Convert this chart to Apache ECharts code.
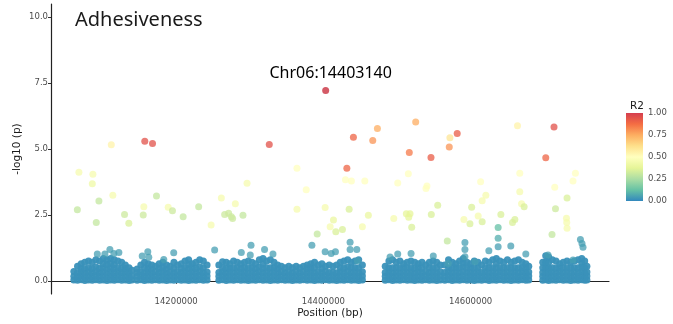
<!DOCTYPE html>
<html>
<head>
<meta charset="utf-8">
<script src="https://cdn.jsdelivr.net/npm/echarts@6/dist/echarts.min.js"></script>
<style>
  html, body { margin: 0; padding: 0; background: #fff; }
  #chart { width: 673px; height: 324px; }
</style>
</head>
<body>
<div id="chart"></div>
<script>
// ============================================================
// Adhesiveness - regional association plot (Chr06)
// ============================================================

var TITLE = 'Adhesiveness';
var LEAD_LABEL = 'Chr06:14403140';

// lead SNP
var leadPosKb = 14403.14;
var leadLogP = 7.22;
var leadR2 = 1.0;

// SNPs that stand out above the background cloud (position in kb, -log10 p, R2)
var snpPosKb = [
  14111.9, 14157.4, 14167.9, 14067.9, 14086.9, 14086.1, 14114.0, 14095.1, 14173.3, 14065.8,
  14156.1, 14189.2, 14195.0, 14230.6, 14129.9, 14155.3, 14209.5, 14091.5, 14135.7,
  14326.5, 14364.1, 14296.3, 14376.7, 14261.4, 14280.4, 14265.9, 14271.3, 14276.7, 14275.0,
  14290.8, 14247.5, 14364.1, 14402.4, 14413.7, 14409.2, 14391.6,
  14440.8, 14473.4, 14467.1, 14525.4, 14516.7, 14546.2, 14581.8, 14571.9, 14571.0, 14431.9,
  14430.0, 14438.1, 14456.3, 14501.0, 14515.4, 14540.7, 14539.4, 14435.0, 14461.1, 14425.9,
  14416.9, 14453.0, 14495.6, 14512.7, 14517.7, 14515.9, 14520.0, 14546.6, 14555.3, 14568.3,
  14590.9,
  14663.7, 14713.3, 14702.1, 14613.6, 14620.7, 14615.7, 14601.4, 14610.3, 14599.1, 14615.7,
  14666.8, 14666.8, 14669.2, 14672.7, 14641.1, 14660.1, 14656.9, 14637.4, 14742.4, 14739.1,
  14714.3, 14731.0, 14715.3, 14730.2, 14730.6, 14731.0, 14710.6,
  // blue outliers just above the cloud
  14092.9, 14103.2, 14110.0, 14115.4, 14122.2, 14153.9, 14161.5, 14162.8, 14196.7, 14183.2,
  14252.3, 14301.7, 14288.5, 14320.1, 14331.5, 14300.7, 14402.4, 14410.6, 14384.4,
  14436.3, 14436.3, 14445.4, 14446.2, 14490.6, 14501.0, 14519.1, 14549.3, 14592.3, 14592.3,
  14592.3, 14569.6, 14416.4,
  14637.4, 14637.4, 14654.6, 14605.8, 14624.8, 14675.0, 14749.2, 14751.3, 14752.7, 14705.2,
  14739.1
];
var snpLogP = [
  5.16, 5.29, 5.21, 4.12, 4.04, 3.68, 3.25, 3.03, 3.22, 2.70,
  2.81, 2.79, 2.66, 2.81, 2.52, 2.50, 2.43, 2.21, 2.18,
  5.17, 4.27, 3.70, 3.45, 3.14, 2.92, 2.52, 2.56, 2.36, 2.43,
  2.49, 2.12, 2.71, 2.78, 2.31, 2.05, 1.78,
  5.45, 5.78, 5.32, 6.02, 4.87, 4.68, 5.59, 5.43, 5.08, 4.27,
  3.83, 3.79, 3.79, 3.71, 4.06, 3.60, 3.50, 2.71, 2.49, 1.95,
  1.86, 2.05, 2.36, 2.54, 2.54, 2.41, 2.03, 2.52, 2.87, 1.51,
  2.33,
  5.88, 5.83, 4.67, 3.76, 3.25, 3.04, 2.79, 2.46, 2.16, 2.24,
  4.08, 3.38, 2.92, 2.81, 2.52, 2.33, 2.21, 2.02, 4.08, 3.79,
  3.55, 3.14, 2.73, 2.37, 2.21, 1.99, 1.76,
  1.02, 1.02, 1.19, 1.04, 1.07, 0.94, 1.10, 0.89, 1.06, 0.81,
  1.17, 1.35, 1.07, 1.19, 1.02, 0.98, 1.10, 1.04, 1.35,
  1.46, 1.19, 1.19, 0.76, 0.90, 1.02, 1.04, 0.94, 1.45, 1.19,
  0.91, 0.66, 1.10,
  1.61, 1.29, 1.32, 0.72, 1.14, 1.02, 1.57, 1.42, 1.27, 0.98,
  0.79
];
var snpR2 = [
  0.55, 0.95, 0.95, 0.45, 0.45, 0.42, 0.45, 0.30, 0.30, 0.30,
  0.45, 0.45, 0.32, 0.30, 0.32, 0.32, 0.30, 0.30, 0.35,
  0.95, 0.50, 0.45, 0.50, 0.45, 0.45, 0.32, 0.32, 0.32, 0.32,
  0.30, 0.45, 0.45, 0.45, 0.40, 0.45, 0.30,
  0.90, 0.75, 0.80, 0.75, 0.85, 0.92, 0.92, 0.60, 0.80, 0.90,
  0.50, 0.50, 0.50, 0.50, 0.50, 0.50, 0.50, 0.35, 0.40, 0.35,
  0.35, 0.45, 0.45, 0.38, 0.38, 0.38, 0.35, 0.35, 0.35, 0.30,
  0.45,
  0.55, 0.95, 0.90, 0.50, 0.45, 0.45, 0.35, 0.45, 0.35, 0.35,
  0.50, 0.45, 0.45, 0.35, 0.35, 0.35, 0.35, 0.12, 0.50, 0.50,
  0.50, 0.35, 0.32, 0.45, 0.45, 0.45, 0.30,
  0.05, 0.05, 0.05, 0.05, 0.05, 0.05, 0.05, 0.05, 0.05, 0.05,
  0.05, 0.05, 0.05, 0.05, 0.05, 0.05, 0.05, 0.05, 0.05,
  0.05, 0.05, 0.05, 0.05, 0.05, 0.05, 0.05, 0.05, 0.05, 0.05,
  0.05, 0.05, 0.05,
  0.08, 0.05, 0.05, 0.05, 0.05, 0.05, 0.05, 0.05, 0.05, 0.05,
  0.05
];

// background cloud of unlinked SNPs: [position kb, -log10 p values at that position...]
var CLOUD_R2 = 0.02;
var cloudRows = [
  [14061, 0.03, 0.17, 0.35],
  [14066, 0.02, 0.16, 0.31, 0.55],
  [14071, 0.04, 0.19, 0.34, 0.48, 0.65],
  [14076, 0.01, 0.15, 0.3, 0.46, 0.7],
  [14081, 0.03, 0.18, 0.33, 0.5, 0.75],
  [14086, 0.02, 0.16, 0.31, 0.47, 0.7],
  [14091, 0.04, 0.19, 0.35, 0.52, 0.8],
  [14096, 0.02, 0.17, 0.32, 0.48, 0.75],
  [14101, 0.03, 0.18, 0.34, 0.5, 0.66, 0.85],
  [14106, 0.01, 0.15, 0.3, 0.46, 0.62, 0.8],
  [14111, 0.03, 0.18, 0.33, 0.49, 0.66, 0.85],
  [14116, 0.02, 0.16, 0.31, 0.47, 0.62, 0.8],
  [14121, 0.04, 0.19, 0.34, 0.5, 0.75],
  [14126, 0.02, 0.17, 0.32, 0.48, 0.7],
  [14131, 0.03, 0.18, 0.33, 0.47, 0.6],
  [14136, 0.01, 0.16, 0.31, 0.5],
  [14140, 0.03, 0.18, 0.4],

  [14147, 0.02, 0.17, 0.32, 0.45],
  [14152, 0.04, 0.19, 0.34, 0.6],
  [14157, 0.01, 0.16, 0.31, 0.5, 0.7],
  [14162, 0.03, 0.18, 0.33, 0.48, 0.65],
  [14167, 0.02, 0.16, 0.31, 0.45, 0.6],
  [14172, 0.04, 0.19, 0.35, 0.55],
  [14177, 0.02, 0.17, 0.32, 0.48, 0.65],
  [14182, 0.03, 0.18, 0.34, 0.5, 0.7],
  [14187, 0.01, 0.15, 0.3, 0.45, 0.6],
  [14192, 0.03, 0.18, 0.33, 0.55],
  [14197, 0.02, 0.16, 0.31, 0.48, 0.7],
  [14202, 0.04, 0.19, 0.34, 0.6],
  [14207, 0.02, 0.17, 0.32, 0.48, 0.65],
  [14212, 0.03, 0.18, 0.33, 0.5, 0.75],
  [14217, 0.01, 0.16, 0.31, 0.47, 0.63, 0.8],
  [14222, 0.03, 0.18, 0.34, 0.5, 0.65],
  [14227, 0.02, 0.16, 0.31, 0.48, 0.7],
  [14232, 0.04, 0.19, 0.35, 0.52, 0.8],
  [14237, 0.02, 0.17, 0.32, 0.5, 0.75],
  [14242, 0.03, 0.18, 0.33, 0.6],

  [14258, 0.02, 0.17, 0.32, 0.6],
  [14263, 0.04, 0.19, 0.34, 0.5, 0.72],
  [14268, 0.01, 0.16, 0.31, 0.48, 0.7],
  [14273, 0.03, 0.18, 0.33, 0.48, 0.65],
  [14278, 0.02, 0.16, 0.31, 0.5, 0.75],
  [14283, 0.04, 0.19, 0.34, 0.5, 0.7],
  [14288, 0.02, 0.17, 0.32, 0.47, 0.65],
  [14293, 0.03, 0.18, 0.33, 0.5, 0.7],
  [14298, 0.01, 0.15, 0.3, 0.5, 0.75],
  [14303, 0.03, 0.18, 0.34, 0.5, 0.7],
  [14308, 0.02, 0.16, 0.31, 0.47, 0.65],
  [14313, 0.04, 0.19, 0.35, 0.52, 0.8],
  [14318, 0.02, 0.17, 0.32, 0.48, 0.65, 0.85],
  [14323, 0.03, 0.18, 0.33, 0.5, 0.75],
  [14328, 0.01, 0.16, 0.31, 0.5, 0.8],
  [14333, 0.03, 0.18, 0.34, 0.5, 0.7],
  [14338, 0.02, 0.16, 0.31, 0.46, 0.6],
  [14343, 0.04, 0.19, 0.35, 0.55],
  [14348, 0.02, 0.17, 0.32, 0.5],
  [14353, 0.03, 0.18, 0.33, 0.55],
  [14358, 0.01, 0.16, 0.31, 0.5],
  [14363, 0.03, 0.18, 0.34, 0.55],
  [14368, 0.02, 0.16, 0.31, 0.5],
  [14373, 0.04, 0.19, 0.35, 0.55],
  [14378, 0.02, 0.17, 0.32, 0.47, 0.6],
  [14383, 0.03, 0.18, 0.33, 0.5, 0.65],
  [14388, 0.01, 0.16, 0.31, 0.5, 0.7],
  [14393, 0.03, 0.18, 0.34, 0.6],
  [14398, 0.02, 0.16, 0.31, 0.47, 0.65],
  [14403, 0.04, 0.19, 0.35, 0.55],
  [14408, 0.02, 0.17, 0.32, 0.6],
  [14413, 0.03, 0.18, 0.33, 0.55],
  [14418, 0.01, 0.16, 0.31, 0.6],
  [14423, 0.03, 0.18, 0.34, 0.5, 0.7],
  [14428, 0.02, 0.16, 0.31, 0.5, 0.75],
  [14433, 0.04, 0.19, 0.35, 0.52, 0.8],
  [14438, 0.02, 0.17, 0.32, 0.5, 0.7],
  [14443, 0.03, 0.18, 0.33, 0.5, 0.75],
  [14448, 0.01, 0.16, 0.31, 0.5, 0.8],
  [14453, 0.03, 0.18, 0.34, 0.6],

  [14484, 0.02, 0.17, 0.32, 0.55],
  [14489, 0.04, 0.19, 0.34, 0.5, 0.75],
  [14494, 0.01, 0.16, 0.31, 0.5, 0.8],
  [14499, 0.03, 0.18, 0.33, 0.5, 0.7],
  [14504, 0.02, 0.16, 0.31, 0.5, 0.75],
  [14509, 0.04, 0.19, 0.34, 0.5, 0.65],
  [14514, 0.02, 0.17, 0.32, 0.5, 0.7],
  [14519, 0.03, 0.18, 0.33, 0.5, 0.75],
  [14524, 0.01, 0.15, 0.3, 0.48, 0.7],
  [14529, 0.03, 0.18, 0.34, 0.5, 0.65],
  [14534, 0.02, 0.16, 0.31, 0.5, 0.7],
  [14539, 0.04, 0.19, 0.35, 0.6],
  [14544, 0.02, 0.17, 0.32, 0.5, 0.7],
  [14549, 0.03, 0.18, 0.33, 0.5, 0.75],
  [14554, 0.01, 0.16, 0.31, 0.5, 0.7],
  [14559, 0.03, 0.18, 0.34, 0.6],

  [14565, 0.02, 0.17, 0.32, 0.6],
  [14570, 0.04, 0.19, 0.34, 0.5, 0.8],
  [14575, 0.01, 0.16, 0.31, 0.5, 0.7],
  [14580, 0.03, 0.18, 0.33, 0.5, 0.65],
  [14585, 0.02, 0.16, 0.31, 0.5, 0.75],
  [14590, 0.04, 0.19, 0.35, 0.52, 0.68, 0.85],
  [14595, 0.02, 0.17, 0.32, 0.5, 0.7],
  [14600, 0.03, 0.18, 0.33, 0.5, 0.65],
  [14605, 0.01, 0.16, 0.31, 0.5, 0.75],
  [14610, 0.03, 0.18, 0.34, 0.5, 0.7],

  [14615, 0.02, 0.17, 0.32, 0.6],
  [14620, 0.04, 0.19, 0.34, 0.5, 0.75],
  [14625, 0.01, 0.16, 0.31, 0.5, 0.7],
  [14630, 0.03, 0.18, 0.33, 0.5, 0.8],
  [14635, 0.02, 0.16, 0.31, 0.5, 0.67, 0.85],
  [14640, 0.04, 0.19, 0.35, 0.5, 0.75],
  [14645, 0.02, 0.17, 0.32, 0.5, 0.7],
  [14650, 0.03, 0.18, 0.33, 0.5, 0.8],
  [14655, 0.01, 0.16, 0.31, 0.5, 0.7],
  [14660, 0.03, 0.18, 0.34, 0.5, 0.75],
  [14665, 0.02, 0.16, 0.31, 0.5, 0.8],
  [14670, 0.04, 0.19, 0.35, 0.5, 0.7],
  [14675, 0.02, 0.17, 0.32, 0.5, 0.65],
  [14679, 0.03, 0.18, 0.33, 0.55],

  [14698, 0.02, 0.17, 0.32, 0.5, 0.7],
  [14702, 0.04, 0.19, 0.34, 0.5, 0.7, 0.95],
  [14706, 0.01, 0.16, 0.31, 0.5, 0.7, 0.9],
  [14711, 0.03, 0.18, 0.33, 0.5, 0.8],
  [14716, 0.02, 0.16, 0.31, 0.5, 0.75],
  [14721, 0.04, 0.19, 0.35, 0.5, 0.65],
  [14726, 0.02, 0.17, 0.32, 0.5, 0.7],
  [14731, 0.03, 0.18, 0.33, 0.5, 0.75],
  [14736, 0.01, 0.16, 0.31, 0.5, 0.7],
  [14741, 0.03, 0.18, 0.34, 0.5, 0.75],
  [14746, 0.02, 0.16, 0.31, 0.5, 0.8],
  [14751, 0.04, 0.19, 0.35, 0.52, 0.68, 0.85],
  [14755, 0.02, 0.17, 0.32, 0.5, 0.75],
  [14758, 0.03, 0.18, 0.33, 0.55]
];

// axes
var xTicks = [14200000, 14400000, 14600000];
var yTicks = [0, 2.5, 5, 7.5, 10];
var r2Ticks = [0, 0.25, 0.5, 0.75, 1];

// Spectral, low R2 -> high R2
var SPECTRAL = ['#3288BD', '#66C2A5', '#ABDDA4', '#E6F598', '#FFFFBF', '#FEE08B', '#FDAE61', '#F46D43', '#D53E4F'];
var LEAD_COLOR = '#d45a66';

// ============================================================

var cloudData = [];
cloudRows.forEach(function(row) {
  row.slice(1).forEach(function(v) {
    cloudData.push([row[0] * 1000, v, CLOUD_R2]);
  });
});

var snpData = snpPosKb.map(function(p, i) {
  return [p * 1000, snpLogP[i], snpR2[i]];
});

var barStops = SPECTRAL.map(function(c, i) {
  return { offset: i / (SPECTRAL.length - 1), color: c };
});

var chart = echarts.init(document.getElementById('chart'), null, { renderer: 'canvas' });

var tickFont = { color: '#4d4d4d', fontSize: 8.5, fontFamily: 'DejaVu Sans' };
var nameFont = { color: '#1a1a1a', fontSize: 10.5, fontFamily: 'DejaVu Sans' };

chart.setOption({
  animation: false,
  backgroundColor: '#ffffff',
  title: [
    {
      text: TITLE, left: 70, top: 5,
      textStyle: { fontSize: 20, fontWeight: 'normal', color: '#1a1a1a', fontFamily: 'Noto Sans' }
    },
    {
      text: 'R2', left: 625, top: 96,
      textStyle: { fontSize: 10.5, fontWeight: 'normal', color: '#1a1a1a', fontFamily: 'DejaVu Sans' }
    }
  ],
  grid: [
    { left: 51, right: 64, top: 4, bottom: 30, containLabel: false, outerBoundsMode: 'none' },
    { left: 626, top: 113, width: 17, height: 88, containLabel: false, outerBoundsMode: 'none' }
  ],
  visualMap: {
    type: 'continuous',
    show: false,
    seriesIndex: [0, 1],
    dimension: 2,
    min: 0,
    max: 1,
    inRange: { color: SPECTRAL }
  },
  xAxis: [
    {
      gridIndex: 0,
      type: 'value',
      min: 14030000,
      max: 14788000,
      name: 'Position (bp)',
      nameLocation: 'middle',
      nameGap: 14,
      nameMoveOverlap: false,
      nameTextStyle: nameFont,
      axisLine: { lineStyle: { color: '#222', width: 1.2 } },
      axisTick: { customValues: xTicks, length: 3, lineStyle: { color: '#333' } },
      axisLabel: Object.assign({
        customValues: xTicks, margin: 3,
        formatter: function(v) { return String(Math.round(v)); }
      }, tickFont),
      splitLine: { show: false }
    },
    {
      gridIndex: 1,
      type: 'category',
      data: ['R2'],
      show: false
    }
  ],
  yAxis: [
    {
      gridIndex: 0,
      type: 'value',
      min: -0.5,
      max: 10.5,
      name: '-log10 (p)',
      nameLocation: 'middle',
      nameRotate: 90,
      nameGap: 28,
      nameMoveOverlap: false,
      nameTextStyle: nameFont,
      axisLine: { show: true, lineStyle: { color: '#222', width: 1.2 } },
      axisTick: { show: true, customValues: yTicks, length: 3, lineStyle: { color: '#333' } },
      axisLabel: Object.assign({
        customValues: yTicks, margin: 3,
        formatter: function(v) { return v.toFixed(1); }
      }, tickFont),
      splitLine: { show: false }
    },
    {
      gridIndex: 1,
      type: 'value',
      position: 'right',
      min: 0,
      max: 1,
      interval: 0.25,
      axisLine: { show: false },
      axisTick: { show: false },
      splitLine: { show: false },
      axisLabel: Object.assign({
        margin: 5,
        formatter: function(v) { return v.toFixed(2); }
      }, tickFont)
    }
  ],
  series: [
    {
      name: 'background',
      type: 'scatter',
      xAxisIndex: 0, yAxisIndex: 0,
      symbolSize: 7,
      itemStyle: { opacity: 0.95 },
      silent: true,
      data: cloudData
    },
    {
      name: 'snps',
      type: 'scatter',
      xAxisIndex: 0, yAxisIndex: 0,
      symbolSize: 7,
      itemStyle: { opacity: 0.75 },
      silent: true,
      data: snpData
    },
    {
      name: 'lead',
      type: 'scatter',
      xAxisIndex: 0, yAxisIndex: 0,
      symbolSize: 7,
      itemStyle: { color: LEAD_COLOR, opacity: 1 },
      silent: true,
      label: {
        show: true,
        position: 'top',
        distance: 6,
        offset: [5, 0],
        formatter: LEAD_LABEL,
        fontSize: 16,
        color: '#000',
        fontFamily: 'Noto Sans'
      },
      data: [[leadPosKb * 1000, leadLogP, leadR2]]
    },
    {
      name: 'r2bar',
      type: 'bar',
      xAxisIndex: 1, yAxisIndex: 1,
      barWidth: '100%',
      silent: true,
      itemStyle: {
        color: new echarts.graphic.LinearGradient(0, 1, 0, 0, barStops)
      },
      data: [r2Ticks[r2Ticks.length - 1]]
    }
  ]
});
</script>
</body>
</html>
